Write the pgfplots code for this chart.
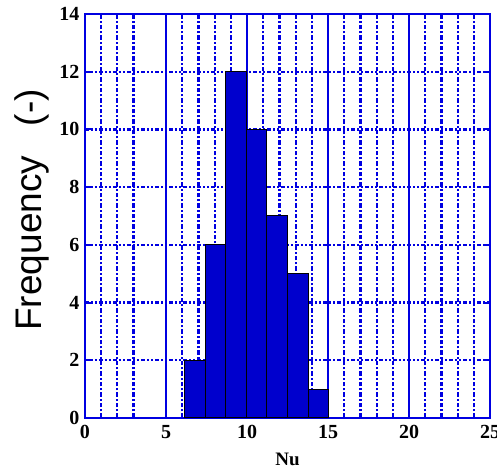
\documentclass[border=0pt]{standalone}
\usepackage{fontspec}
\setmainfont{Liberation Serif}
\newfontfamily\arial{Liberation Sans}
\usepackage{pgfplots}
\pgfplotsset{compat=1.18}
\definecolor{gblue}{RGB}{0,0,225}
\definecolor{bblue}{RGB}{0,0,205}
\begin{document}
\begin{tikzpicture}
\useasboundingbox (-85pt,-52pt) rectangle (412pt,418pt);
\begin{axis}[
  scale only axis,
  width=405pt, height=404pt,
  xmin=0, xmax=25, ymin=0, ymax=14,
  xtick={0,5,...,25},
  ytick={0,2,...,14},
  minor xtick={1,2,3,6,7,8,9,11,12,13,14,16,17,18,19,21,22,23,24},
  xmajorgrids, ymajorgrids, xminorgrids,
  every axis grid/.style={gblue},
  every major x grid/.style={gblue, line width=2pt, solid},
  every minor x grid/.style={gblue, line width=2.2pt, dash pattern=on 4.5pt off 2pt on 2pt off 2pt},
  every major y grid/.style={gblue, line width=2.2pt, dash pattern=on 4pt off 2pt on 2pt off 2pt on 2pt off 2pt},
  axis line style={gblue, line width=2.2pt},
  major tick style={gblue, line width=2pt},
  minor tick length=0pt,
  major tick length=7pt,
  tick align=inside,
  /pgf/number format/assume math mode=true,
  ticklabel style={font=\bfseries\fontsize{20}{20}\selectfont},
  xticklabel style={yshift=-4pt},
  yticklabel style={xshift=-2pt},
  xlabel={\bfseries Nu},
  xlabel style={font=\fontsize{19}{19}\selectfont, at={(axis description cs:0.5,-0.102)}, anchor=center},
  ylabel={Frequency\hspace{0.8em}(-)},
  ylabel style={font=\arial\fontsize{37}{37}\selectfont, at={(axis description cs:-0.131,0.515)}, anchor=center},
]
\addplot[ybar interval, fill=bblue, draw=black, line width=1pt] coordinates {
 (6.15,2) (7.42,6) (8.69,12) (9.96,10) (11.23,7) (12.5,5) (13.77,1) (15.04,1)
};
\end{axis}
\end{tikzpicture}
\end{document}
